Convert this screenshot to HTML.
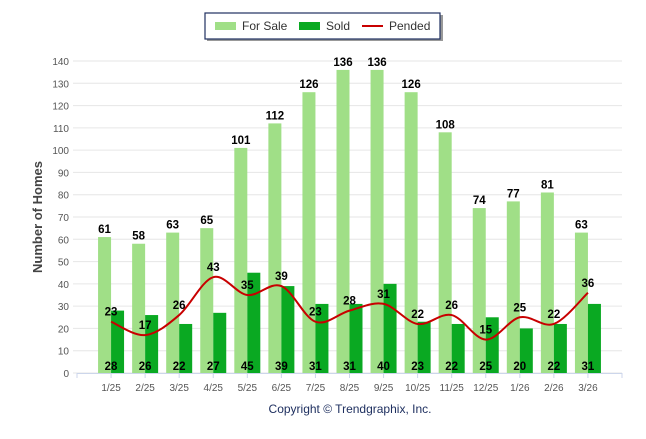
<!DOCTYPE html>
<html><head><meta charset="utf-8"><style>
body{margin:0;background:#fff;font-family:"Liberation Sans",sans-serif}
</style></head><body>
<svg id="c" width="646" height="434" xmlns="http://www.w3.org/2000/svg" font-family="Liberation Sans, sans-serif"></svg>
<script>
const categories=["1/25","2/25","3/25","4/25","5/25","6/25","7/25","8/25","9/25","10/25","11/25","12/25","1/26","2/26","3/26"];
const forSale=[61,58,63,65,101,112,126,136,136,126,108,74,77,81,63];
const sold=[28,26,22,27,45,39,31,31,40,23,22,25,20,22,31];
const pended=[23,17,26,43,35,39,23,28,31,22,26,15,25,22,36];
const yTicks=[0,10,20,30,40,50,60,70,80,90,100,110,120,130,140];
const NS="http://www.w3.org/2000/svg";
const svg=document.getElementById('c');
const L=77,R=622,Y0=373,Y140=61;
const step=(R-L)/16;
const x=i=>L+step*(i+1);
const y=v=>Y0-(Y0-Y140)*v/140;
function mk(t,a,p){const e=document.createElementNS(NS,t);for(const k in a)e.setAttribute(k,a[k]);(p||svg).appendChild(e);return e;}
const g=mk('g',{});


yTicks.forEach(v=>{
 const l=mk('line',{x1:L-4,x2:R,y1:y(v),y2:y(v),stroke:'#e6e6e6','stroke-width':1},g);
 
 
 const t=mk('text',{x:L-8,y:y(v)+4,'text-anchor':'end','font-size':10,fill:'#555'},g);
 t.textContent=v;
 
 
});
const yt=mk('text',{x:0,y:0,transform:'translate(42,217) rotate(-90)','text-anchor':'middle','font-size':13,'font-weight':'bold',fill:'#444'});
yt.textContent='Number of Homes';


mk('line',{x1:L,x2:R,y1:Y0+0.5,y2:Y0+0.5,stroke:'#ccd6eb'});
for(let i=0;i<=16;i++){const tk=mk('line',{x1:L+step*i,x2:L+step*i,y1:Y0,y2:Y0+5,stroke:'#ccd6eb'});}
const bw=13;
categories.forEach((c,i)=>{
 const cx=x(i);
 const b1=mk('rect',{x:cx-bw,y:y(forSale[i]),width:bw,height:Y0-y(forSale[i]),fill:'#a0df87'});
 
 
 const b2=mk('rect',{x:cx,y:y(sold[i]),width:bw,height:Y0-y(sold[i]),fill:'#0aa922'});
 
 
 const t=mk('text',{x:cx,y:Y0+18,'text-anchor':'middle','font-size':10,fill:'#555'});
 t.textContent=c;
 
 
});
const pts=pended.map((v,i)=>[x(i),y(v)]);
let d='M'+pts[0][0]+','+pts[0][1];
for(let i=0;i<pts.length-1;i++){
 const p0=pts[i-1]||pts[i],p1=pts[i],p2=pts[i+1],p3=pts[i+2]||p2;
 const c1=[p1[0]+(p2[0]-p0[0])/6,p1[1]+(p2[1]-p0[1])/6],c2=[p2[0]-(p3[0]-p1[0])/6,p2[1]-(p3[1]-p1[1])/6];
 d+=' C'+c1+' '+c2+' '+p2;
}
const pl=mk('path',{d:d,fill:'none',stroke:'#c80000','stroke-width':2});


function lab(tx,xx,yy,name){const t=mk('text',{x:xx,y:yy,'text-anchor':'middle','font-size':11.5,'font-weight':'bold',fill:'#000'});t.textContent=tx;}
categories.forEach((c,i)=>{
 lab(forSale[i],x(i)-bw/2,y(forSale[i])-4,'for-sale-label-'+c);
 lab(sold[i],x(i),Y0-3,'sold-label-'+c);
 lab(pended[i],x(i),y(pended[i])-6,'pended-label-'+c);
});
const lg=mk('g',{});


mk('rect',{x:207,y:15,width:236,height:26,fill:'#999'},lg);
mk('rect',{x:205,y:13,width:235,height:26,fill:'#fff',stroke:'#1f3060','stroke-width':1.2},lg);
const items=[['For Sale','#a0df87',215,'rect'],['Sold','#0aa922',299,'rect'],['Pended','#c80000',362,'line']];
items.forEach(([n,col,lx,kind])=>{
 const it=mk('g',{},lg);
 
 
 if(kind==='rect')mk('rect',{x:lx,y:22,width:21,height:8,fill:col},it);
 else mk('line',{x1:lx,x2:lx+21,y1:26,y2:26,stroke:col,'stroke-width':2},it);
 const t=mk('text',{x:lx+27,y:30,'font-size':12,fill:'#333'},it);t.textContent=n;
});
const cp=mk('text',{x:350,y:413,'text-anchor':'middle','font-size':12,fill:'#1f3060'});
cp.textContent='Copyright © Trendgraphix, Inc.';


</script>
</body></html>
